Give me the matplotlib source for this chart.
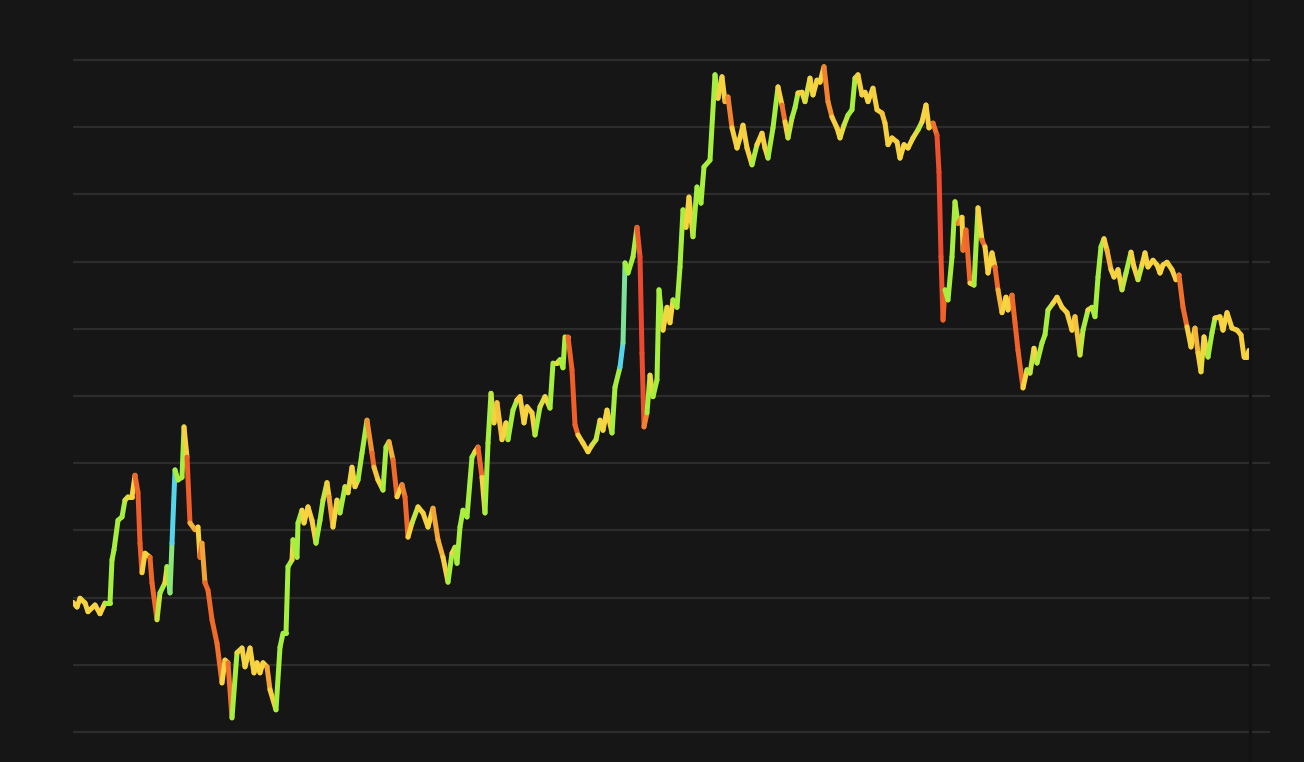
import numpy as np
import matplotlib
matplotlib.use("Agg")
import matplotlib.pyplot as plt
from matplotlib.collections import LineCollection
from matplotlib.colors import LinearSegmentedColormap, Normalize
from matplotlib.lines import Line2D

# time (hours from start) and price level (arbitrary units, grid 0..100)
hours = [
    0, 4, 7, 12, 15, 22, 27, 32, 37, 39,
    41, 45, 49, 52, 55, 59, 62, 65, 67, 69,
    72, 77, 79, 84, 87, 92, 94, 97, 99, 102,
    105, 109, 111, 114, 117, 122, 125, 127, 129, 132,
    135, 139, 144, 149, 152, 155, 159, 164, 169, 172,
    177, 181, 184, 187, 190, 194, 197, 203, 207, 210,
    213, 215, 219, 220, 224, 225, 229, 231, 235, 239,
    243, 247, 250, 254, 256, 260, 264, 267, 272, 275,
    279, 282, 285, 289, 294, 299, 301, 305, 310, 313,
    316, 320, 324, 329, 332, 335, 339, 345, 350, 355,
    360, 365, 370, 375, 379, 382, 384, 387, 390, 394,
    399, 402, 405, 409, 412, 415, 418, 421, 424, 429,
    433, 435, 440, 444, 447, 451, 454, 459, 462, 467,
    472, 477, 480, 484, 487, 490, 492, 495, 499, 502,
    505, 510, 515, 519, 523, 527, 530, 534, 539, 542,
    547, 550, 552, 555, 560, 564, 567, 569, 571, 574,
    577, 580, 584, 586, 590, 594, 597, 600, 604, 607,
    610, 613, 616, 620, 624, 628, 631, 637, 642, 645,
    649, 652, 655, 659, 664, 667, 670, 674, 679, 684,
    689, 692, 695, 700, 705, 709, 712, 715, 719, 722,
    725, 729, 732, 737, 740, 744, 747, 751, 755, 759,
    764, 767, 771, 775, 779, 782, 785, 789, 792, 795,
    800, 804, 809, 812, 815, 819, 824, 827, 831, 835,
    840, 845, 849, 853, 856, 860, 864, 866, 868, 870,
    872, 875, 879, 882, 885, 889, 890, 893, 897, 901,
    905, 909, 912, 915, 919, 922, 925, 929, 933, 935,
    939, 942, 945, 950, 954, 957, 961, 964, 969, 972,
    975, 980, 984, 989, 994, 999, 1002, 1007, 1010, 1015,
    1019, 1022, 1025, 1028, 1031, 1034, 1038, 1041, 1045, 1049,
    1053, 1058, 1061, 1065, 1069, 1072, 1075, 1080, 1084, 1087,
    1090, 1094, 1099, 1103, 1106, 1110, 1114, 1118, 1122, 1125,
    1128, 1131, 1135, 1139, 1142, 1147, 1150, 1154, 1159, 1164,
    1168, 1171, 1174, 1176,
]

price = [
    19.3, 18.6, 19.9, 19.2, 17.9, 18.9, 17.6, 19.2, 19.2, 25.6,
    27.1, 31.5, 32.0, 34.5, 35.0, 35.0, 38.2, 35.6, 28.1, 23.7,
    26.6, 26.0, 22.2, 16.7, 20.7, 22.2, 24.6, 20.7, 28.1, 39.0,
    37.5, 37.9, 45.4, 40.9, 31.1, 30.1, 30.5, 26.0, 28.1, 22.2,
    21.1, 16.7, 13.2, 7.3, 10.7, 10.3, 2.1, 11.8, 12.5, 9.7,
    12.5, 8.8, 10.3, 8.8, 10.3, 9.7, 6.3, 3.3, 12.6, 14.7,
    14.7, 24.6, 25.6, 28.6, 26.0, 31.1, 33.0, 31.1, 33.5, 31.5,
    28.1, 31.5, 34.5, 37.1, 35.0, 30.5, 34.5, 32.6, 36.5, 35.6,
    39.4, 36.5, 37.5, 41.5, 46.4, 41.5, 39.4, 37.5, 36.0, 42.4,
    43.2, 40.5, 35.0, 36.8, 35.0, 29.0, 31.1, 33.5, 32.6, 30.5,
    33.3, 28.6, 26.0, 22.3, 26.6, 27.5, 25.1, 30.5, 33.0, 32.0,
    40.9, 41.7, 42.4, 37.9, 32.6, 43.0, 50.4, 46.0, 49.0, 43.5,
    46.0, 43.5, 47.9, 49.4, 49.9, 46.0, 48.4, 47.5, 44.2, 48.4,
    49.9, 48.2, 54.9, 54.9, 55.4, 54.2, 58.8, 58.8, 53.9, 45.7,
    44.2, 43.0, 41.7, 42.7, 43.5, 46.4, 44.9, 47.9, 44.5, 51.3,
    54.3, 57.9, 69.8, 68.3, 70.7, 75.1, 70.7, 56.4, 45.4, 47.5,
    53.1, 49.9, 52.4, 65.8, 59.8, 63.2, 60.9, 64.3, 63.2, 69.2,
    77.7, 75.1, 79.6, 73.7, 81.1, 78.7, 84.1, 85.1, 97.8, 94.3,
    97.5, 93.8, 94.5, 89.9, 86.9, 88.4, 90.3, 86.9, 84.4, 87.4,
    89.1, 86.9, 85.4, 89.9, 96.0, 93.3, 90.8, 88.4, 91.4, 92.9,
    95.1, 95.2, 93.8, 97.3, 94.8, 97.0, 96.7, 99.0, 93.8, 91.5,
    89.9, 88.4, 90.3, 91.8, 92.6, 97.3, 97.8, 94.8, 95.2, 93.8,
    95.8, 92.6, 92.1, 90.6, 87.4, 88.4, 87.8, 85.4, 87.4, 86.9,
    88.4, 89.6, 90.8, 93.3, 89.9, 90.6, 88.8, 83.3, 70.7, 61.3,
    65.8, 64.3, 70.7, 78.9, 75.7, 76.6, 71.7, 74.7, 66.8, 66.5,
    78.0, 73.2, 72.2, 68.3, 71.3, 69.2, 65.8, 62.4, 64.7, 62.8,
    65.0, 60.9, 56.8, 51.2, 53.9, 53.4, 57.1, 54.9, 57.9, 59.1,
    62.8, 63.8, 64.7, 63.2, 62.4, 59.8, 61.8, 56.1, 59.8, 62.8,
    63.2, 61.8, 67.7, 72.2, 73.4, 71.7, 68.8, 67.7, 68.8, 65.8,
    68.3, 71.4, 69.2, 67.3, 69.5, 71.3, 69.2, 70.2, 69.5, 68.3,
    69.5, 69.9, 68.8, 67.3, 68.0, 63.2, 60.3, 57.3, 60.1, 56.4,
    53.6, 58.8, 55.8, 59.4, 61.6, 61.8, 59.8, 62.4, 60.1, 59.8,
    59.1, 55.8, 55.8, 56.8,
]

grid_levels = list(range(0, 101, 10))
now_hour = 1177

BG = "#161616"
GRID = "#2c2c2c"

fig = plt.figure(figsize=(13.04, 7.62), dpi=100, facecolor=BG)
W, H = 1304, 762
ax = fig.add_axes([73 / W, (762 - 740) / H, (1270 - 73) / W, (740 - 52) / H])
ax.set_facecolor(BG)
unit = 67.2 / 10.0
pad = 8 / unit
ax.set_xlim(0, 1197)
ax.set_ylim(-pad, 100 + pad)
for s in ax.spines.values():
    s.set_visible(False)
ax.set_xticks([])
ax.set_yticks(grid_levels)
ax.tick_params(left=False, labelleft=False)
ax.yaxis.grid(True, color=GRID, linewidth=1.6)
ax.set_axisbelow(True)

# momentum-coloured line (lightly smoothed slope, screen px per px)
t = np.asarray(hours, dtype=float)
p = np.asarray(price, dtype=float)
pts = np.column_stack([t, p]).reshape(-1, 1, 2)
segs = np.concatenate([pts[:-1], pts[1:]], axis=1)
mid = (t[:-1] + t[1:]) / 2
h = 3.5
mom = (np.interp(mid + h, t, p) - np.interp(mid - h, t, p)) / (2 * h) * unit

nodes = [(-42, "#e3164f"), (-30, "#ec4430"), (-9, "#f0622a"), (-5.5, "#f06a2a"),
         (-3.5, "#f7cf3f"), (1.5, "#f8d642"), (2.8, "#a6ef3f"), (11.5, "#a6ef3f"),
         (15, "#55d5ea"), (40, "#55d5ea")]
lo, hi = nodes[0][0], nodes[-1][0]
cmap = LinearSegmentedColormap.from_list(
    "momentum", [((v - lo) / (hi - lo), c) for v, c in nodes])
lc = LineCollection(segs, cmap=cmap, norm=Normalize(lo, hi), linewidths=3.6,
                    capstyle="round", joinstyle="round", zorder=3)
lc.set_array(np.clip(mom, lo, hi))
ax.add_collection(lc)

# thin dark "now" marker
xf = (73 + now_hour) / W
fig.add_artist(Line2D([xf, xf], [0, 1], color="#121212", linewidth=2.2, zorder=5))

fig.savefig("out.png", dpi=100, facecolor=BG)
